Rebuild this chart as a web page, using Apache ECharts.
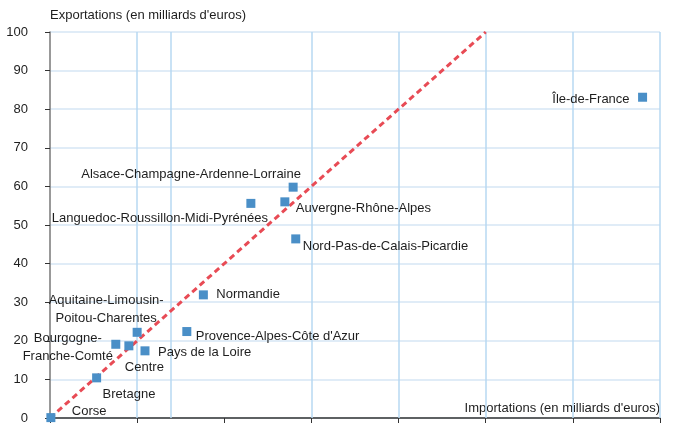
<!DOCTYPE html>
<html>
<head>
<meta charset="utf-8">
<script src="https://cdn.jsdelivr.net/npm/echarts@6/dist/echarts.min.js"></script>
<style>
  html, body { margin: 0; padding: 0; background: #fff; }
  #chart { width: 675px; height: 430px; }
</style>
</head>
<body>
<div id="chart"></div>
<script>
// regions, imports (x) and exports (y), in billions of euros
var regions = [
  'Corse',
  'Bretagne',
  'Bourgogne-\nFranche-Comté',
  'Centre',
  'Aquitaine-Limousin-\nPoitou-Charentes',
  'Pays de la Loire',
  "Provence-Alpes-Côte d'Azur",
  'Normandie',
  'Languedoc-Roussillon-Midi-Pyrénées',
  'Auvergne-Rhône-Alpes',
  'Alsace-Champagne-Ardenne-Lorraine',
  'Nord-Pas-de-Calais-Picardie',
  'Île-de-France'
];
var imports = [0.2, 10.7, 15.1, 18.1, 20.0, 21.8, 31.4, 35.2, 46.1, 53.9, 55.8, 56.4, 136.0];
var exports = [0.1, 10.4, 19.1, 18.7, 22.2, 17.4, 22.4, 31.9, 55.6, 56.0, 59.8, 46.4, 83.1];

// balance line exports = imports
var balanceLine = [[0, 0], [100, 100]];

// vertical grid lines as drawn in the source
var vGridLines = [20, 27.8, 60, 80, 100, 120, 140];

var yTicks = [0, 10, 20, 30, 40, 50, 60, 70, 80, 90, 100];

// label placement per point: [align, dx, dy] from the marker centre
var labelPos = {
  'Corse': ['left', 21, -6],
  'Bretagne': ['left', 6, 17],
  'Bourgogne-\nFranche-Comté': ['center', -48, 3],
  'Centre': ['left', -4, 21.5],
  'Aquitaine-Limousin-\nPoitou-Charentes': ['center', -31, -23],
  'Pays de la Loire': ['left', 13, 1.5],
  "Provence-Alpes-Côte d'Azur": ['left', 9, 4.5],
  'Normandie': ['left', 13, -0.5],
  'Languedoc-Roussillon-Midi-Pyrénées': ['center', -91, 15],
  'Auvergne-Rhône-Alpes': ['left', 11, 7],
  'Alsace-Champagne-Ardenne-Lorraine': ['center', -102, -13],
  'Nord-Pas-de-Calais-Picardie': ['left', 7, 7.5],
  'Île-de-France': ['right', -13, 2]
};

var font = '"Liberation Sans", Arial, Helvetica, sans-serif';
var textColor = '#1e1e1e';

var points = regions.map(function (name, i) {
  var p = labelPos[name];
  return {
    name: name,
    value: [imports[i], exports[i]],
    label: {
      show: true,
      position: 'inside',
      align: p[0],
      verticalAlign: 'middle',
      offset: [p[1], p[2]],
      formatter: name,
      color: textColor,
      fontSize: 13,
      lineHeight: 18,
      fontFamily: font,
      textBorderWidth: 0
    }
  };
});

var chart = echarts.init(document.getElementById('chart'));
chart.setOption({
  animation: false,
  grid: { left: 50, right: 15, top: 32, bottom: 12 },
  xAxis: {
    type: 'value',
    min: 0,
    max: 140,
    interval: 20,
    name: "Importations (en milliards d'euros)",
    nameLocation: 'end',
    nameGap: 0,
    nameTextStyle: {
      align: 'right', verticalAlign: 'bottom',
      color: textColor, fontSize: 13, fontFamily: font,
      padding: [0, 0, 3, 0]
    },
    axisLine: { lineStyle: { color: '#333', width: 1.5 } },
    axisTick: { show: true, length: 5, lineStyle: { color: '#333' } },
    axisLabel: { show: false },
    splitLine: { show: false }
  },
  yAxis: {
    type: 'value',
    min: yTicks[0],
    max: yTicks[yTicks.length - 1],
    interval: 10,
    name: "Exportations (en milliards d'euros)",
    nameLocation: 'end',
    nameGap: 10,
    nameTextStyle: {
      align: 'left', verticalAlign: 'bottom',
      color: textColor, fontSize: 13, fontFamily: font
    },
    axisLine: { show: true, lineStyle: { color: '#777', width: 1.5 } },
    axisTick: { show: true, length: 5, lineStyle: { color: '#333' } },
    axisLabel: { margin: 22, color: textColor, fontSize: 13, fontFamily: font },
    splitLine: { show: true, lineStyle: { color: '#d6e6f5', width: 1.5 } }
  },
  series: [
    {
      type: 'line',
      data: balanceLine,
      symbol: 'none',
      silent: true,
      z: 3,
      lineStyle: { color: '#e84b55', width: 3, type: [6, 4] },
      markLine: {
        silent: true,
        symbol: 'none',
        label: { show: false },
        lineStyle: { color: '#b7d8f2', width: 1.5, type: 'solid' },
        data: vGridLines.map(function (v) { return { xAxis: v }; }),
        z: 1
      }
    },
    {
      type: 'scatter',
      symbol: 'rect',
      symbolSize: 9,
      z: 4,
      itemStyle: { color: '#4a8fc7', opacity: 1 },
      data: points
    }
  ]
});
</script>
</body>
</html>
